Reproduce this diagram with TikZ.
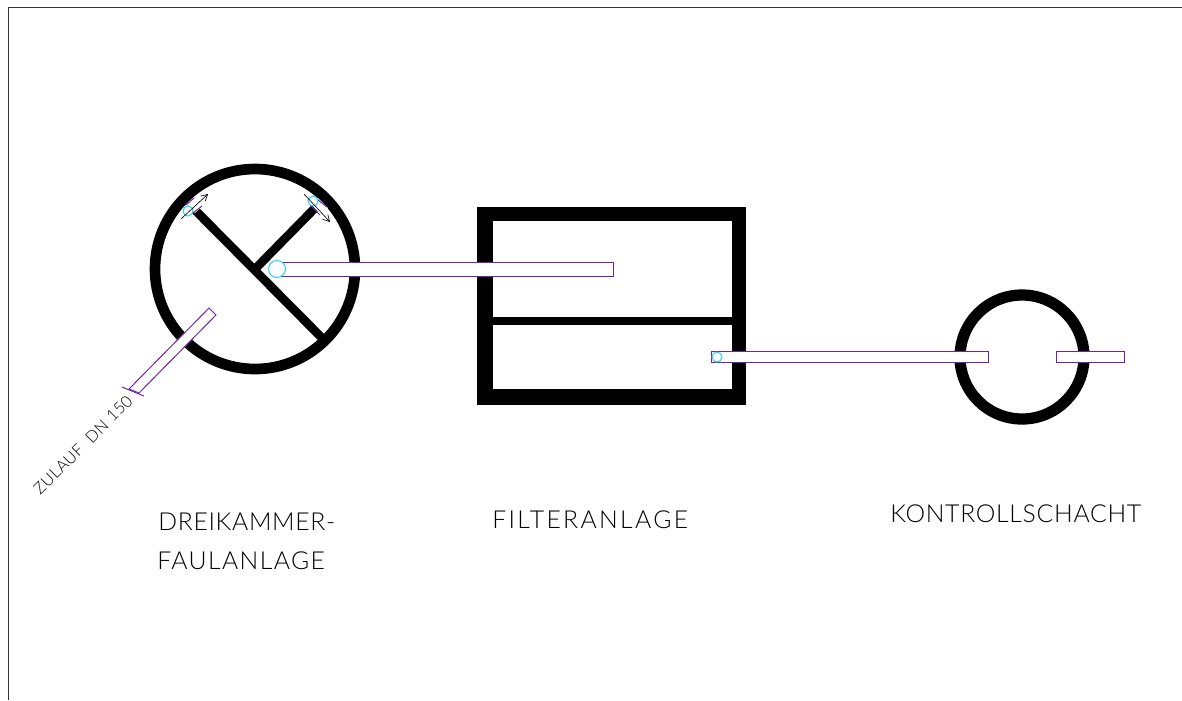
\documentclass[tikz,border=0pt]{standalone}
\usepackage{fontspec}
\usepackage{xcolor}
\usetikzlibrary{arrows.meta}
\newfontfamily\capfont{Lato Light}
\newfontfamily\notefont[LetterSpace=3]{Lato Light}
\definecolor{pipeviolet}{HTML}{6F22A8}
\definecolor{shaftcyan}{HTML}{22CCFF}
\tikzset{
  tankwall/.style={draw=black, line width=7.6pt},
  pipe/.style={draw=pipeviolet, fill=white, line width=0.7pt},
  shaft/.style={draw=shaftcyan, fill=white, line width=0.7pt},
  flowarrow/.style={-{Straight Barb[length=4.5pt,width=5pt]}, line width=0.45pt},
  caption/.style={inner sep=0pt, anchor=base west, font=\capfont\fontsize{17.6}{18}\selectfont},
}
\begin{document}
\begin{tikzpicture}[x=0.025cm,y=-0.025cm]
\useasboundingbox (0,0) rectangle (1182,700);
\draw [black!80, line width=0.6pt] (8,700) -- (8,7) -- (1182,7);

% tanks
\draw [tankwall] (255,269) circle (100);
\draw [tankwall, line width=6.2pt] (193,208) -- (325,341);
\draw [tankwall, line width=6.2pt] (315,208) -- (257,267);
\draw [fill=black] (477,207) rectangle (745.5,404);
\draw [fill=white, draw=none] (493,221) rectangle (731.5,389);
\draw [fill=black] (493,317) rectangle (731.5,324);
\draw [tankwall, line width=8pt] (1022,357) circle (62);

% pipes
\draw [pipe] (277,262) rectangle (613,276);
\draw [pipe] (711,351) rectangle (988,362);
\draw [pipe] (1056,351) rectangle (1124,362);
\draw [pipe] (209,308) -- (216,315) -- (139,393) -- (129,389) -- cycle;
\draw [pipe] (122,387) -- (144,396);

% overflow openings
\fill [white] (187,205) -- (195,197) -- (203,205) -- (195,213) -- cycle;
\draw [pipeviolet, line width=0.7pt] (186,205) -- (194,198);
\draw [pipeviolet, line width=0.7pt] (193,213) -- (202,206);
\fill [white] (311,204) -- (318,198) -- (328,208) -- (321,215) -- cycle;
\draw [pipeviolet, line width=0.7pt] (318,200) -- (327,207);
\draw [pipeviolet, line width=0.7pt] (310,205) -- (320,215);

\draw [shaft] (188,211) circle (5);
\draw [shaft] (313,201) circle (5);
\draw [shaft] (277,269) circle (8.5);
\draw [shaft] (717,357) circle (5);

\draw [flowarrow] (181,219) -- (208,194);
\draw [flowarrow] (304,194) -- (330,222);

% labels
\node (zulauf) [inner sep=0pt, rotate=45, font=\notefont\fontsize{11.5}{12}\selectfont] at (83,445) {ZULAUF\ \ DN 150};
\node (faul1) [caption] at (158,530) {\addfontfeature{LetterSpace=2.8}DREIKAMMER-};
\node (faul2) [caption] at (157,569) {\addfontfeature{LetterSpace=5.8}FAULANLAGE};
\node (filter) [caption] at (492,528) {\addfontfeature{LetterSpace=9.5}FILTERANLAGE};
\node (kontroll) [caption] at (890,522) {\addfontfeature{LetterSpace=2.9}KONTROLLSCHACHT};
\end{tikzpicture}
\end{document}
